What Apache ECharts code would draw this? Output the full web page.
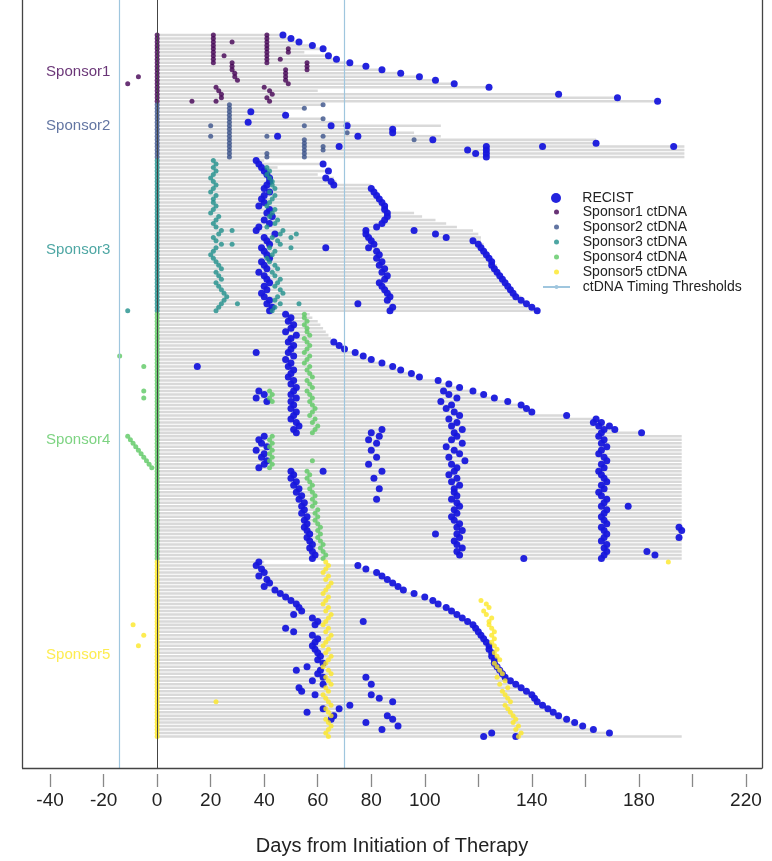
<!DOCTYPE html>
<html><head><meta charset="utf-8">
<script src="https://cdn.jsdelivr.net/npm/echarts@6/dist/echarts.min.js"></script>
<style>html,body{margin:0;padding:0;background:#fff}#c{width:772px;height:861px}</style>
</head><body><div id="c"></div>
<script>
// ---------- data ----------
const sponsors = ['Sponsor1','Sponsor2','Sponsor3','Sponsor4','Sponsor5'];
const sponsorColors = ['#440154','#3B528B','#21908C','#5DC863','#FDE725'];
const xTicks = [-40,-20,0,20,40,60,80,100,120,140,160,180,200,220];
const xTickLabels = [-40,-20,0,20,40,60,80,100,140,180,220];
const thresholds = [-14, 70];

// Sponsor1
const s1End = [47,50,53,58,62,55,64,67,72,78,84,91,98,104,111,124,60,150,172,187];
const s1Recist = [[47],[50],[53],[58],[62],[],[64],[67],[72],[78],[84],[91],[98],[104],[111],[124],[],[150],[172],[187]];
const s1Ct = [[0,21,41],[0,21,41],[0,21,28,41],[0,21,41],[0,21,41,49],[0,21,41,49],[0,21,25,41],[0,21,41,46],[0,21,28,41,56],[0,28,56],[0,28,48,56],[0,29,48],[0,-7,29,48],[0,30,48],[0,-11,49],[0,22,40],[0,23,42],[0,24,43],[0,24,41],[0,13,22,42]];

// Sponsor2
const s2End = [62,55,48,48,62,72,106,88,96,106,164,164,197,197,197,197];
const s2Recist = [[],[],[35],[48],[],[34],[65,71],[88],[88],[45,75],[103],[164],[68,123,144,193],[116,123],[119,123],[123]];
const s2Ct = [[0,27,62],[0,27,55],[0,27],[0,27],[0,27,62],[0,27],[0,20,27,55],[0,27],[0,27,71],[0,20,27,41,62],[0,27,55,96],[0,27,55],[0,27,55,62],[0,27,55,62],[0,27,41,55],[0,27,41,55]];

// Sponsor3
const s3End = [40,62,45,64,60,66,67,80,80,81,82,83,84,85,86,96,99,104,108,112,118,120,121,121,122,122,123,124,125,126,127,127,128,129,130,131,132,133,134,136,137,139,141,143];
const s3Recist = [[37],[38,62],[39],[40,64],[41],[42,63],[42,65],[41,66],[40,80],[42,81],[40,82],[39,83],[40,84],[38,85],[42,85],[41,86],[43,86],[40,85],[42,84],[38,82],[37,78,96],[44,78,104],[40,79,108],[41,80,118],[42,81,120],[39,79,63,121],[40,82,122],[41,83,123],[42,82,124],[39,84,125],[40,83,125],[41,85,126],[38,84,127],[40,86,128],[41,85,129],[42,83,130],[40,84,131],[41,85,132],[39,86,133],[40,87,134],[42,86,136],[41,75,138],[43,88,140],[42,87,142]];
const s3Ct = [[0,21],[0,22],[0,21,41],[0,22,42],[0,21,41],[0,20,42],[0,21,43],[0,22,43],[0,21,44],[0,20,42],[0,22,44],[0,21,43],[0,21,42],[0,22,41],[0,21,44],[0,20,43],[0,23,42],[0,22,45],[0,21,44],[0,22,41],[0,24,28,47],[0,23,46,52],[0,21,43,50],[0,22,45],[0,24,28,46],[0,22,42,50],[0,21,44],[0,20,43],[0,21,41],[0,22,42],[0,23,44],[0,24,45],[0,22,43],[0,23,44],[0,24,46],[0,22,45],[0,23,44],[0,24,46],[0,25,47],[0,26,45],[0,25,44],[0,24,30,46,53],[0,23,44],[0,-11,22,43]];

// Sponsor4
const s4End = [57,58,60,61,62,63,64,65,66,68,70,74,77,80,84,88,91,95,98,105,109,113,118,122,126,131,136,138,140,153,164,166,169,171,181,196,196,196,196,196,196,196,196,196,196,196,196,196,196,196,196,196,196,196,196,196,196,196,196,196,196,196,196,196,196,196,196,196,196,196,196];
const s4Recist = [[48],[50],[49],[51],[50],[48],[52],[50],[49,66],[51,68],[50,70],[37,49,74],[51,77],[48,80],[50,84],[15,49,88],[51,91],[50,95],[49,98],[51,105],[50,109],[52,113],[38,51,107,118],[40,50,109,122],[37,52,112,126],[41,50,106,131],[51,110,136],[50,108,138],[52,111,140],[51,113,153],[50,109,164],[52,112,163,166],[53,110,165,169],[51,114,84,167,171],[52,80,111,166,181],[40,83,112,165],[38,79,110,167],[39,82,114,166],[41,108,168],[37,80,111,166],[40,113,165],[39,82,109,167],[41,115,168],[40,79,110,166],[38,112,167],[50,62,84,111,165],[51,109,166],[50,81,112,167],[52,110,168],[51,113,166],[53,83,111,167],[52,111,165],[54,112,166],[53,82,110,168],[55,112,167],[54,113,166,176],[55,111,168],[54,112,167],[56,110,166],[55,111,167],[56,113,168],[55,112,166,195],[56,114,167,196],[57,104,112,168],[56,113,167,195],[57,111,166],[58,112,168],[57,114,167],[58,112,168,183],[59,113,167,186],[58,137,166]];
const s4Ct = [[0,55],[0,55],[0,56],[0,55],[0,56],[0,56],[0,57],[0,55],[0,56],[0,57],[0,56],[0,55],[0,-14,57],[0,56],[0,55],[0,-5,57],[0,56],[0,57],[0,58],[0,56],[0,57],[0,58],[0,-5,42,56],[0,43,57],[0,-5,42,58],[0,43,57],[0,58],[0,59],[0,58],[0,57],[0,59],[0,58],[0,60],[0,59],[0,58],[0,-11,43],[0,-10,42],[0,-9,43],[0,-8,42],[0,-7,43],[0,-6,42],[0,-5,43],[0,-4,42,58],[0,-3,43],[0,-2,42],[0,56],[0,57],[0,56],[0,57],[0,58],[0,57],[0,58],[0,59],[0,58],[0,59],[0,58],[0,60],[0,59],[0,60],[0,59],[0,60],[0,61],[0,60],[0,61],[0,60],[0,61],[0,62],[0,61],[0,62],[0,63],[0,62]];

// Sponsor5
const s5End = [40,75,78,82,84,86,88,90,92,96,100,103,105,108,110,112,114,116,118,119,120,121,122,123,124,124,125,125,126,126,127,128,129,130,132,134,136,138,140,141,142,144,146,148,150,153,156,159,163,169,196];
const s5Recist = [[38],[37,75],[39,78],[40,82],[38,84],[41,86],[42,88],[40,90],[44,92],[46,96],[48,100],[50,103],[52,105],[53,108],[54,110],[51,112],[58,114],[60,77,116],[59,118],[48,119],[51,120],[58,121],[60,122],[59,123],[58,124],[59,124],[60,125],[61,125],[60,126],[62,126],[56,127],[52,61,128],[60,129],[62,78,130],[58,132],[62,80,134],[53,136],[54,138],[59,80,140],[83,141],[88,142],[72,144],[62,68,146],[56,148],[66,86,150],[65,88,153],[78,156],[90,159],[84,163],[125,169],[122,134]];
const s5Ct = [[0,63,191],[0,64],[0,63],[0,62],[0,64],[0,63],[0,65],[0,64],[0,63],[0,62],[0,64],[0,63,121],[0,62,123],[0,64,124],[0,63,122],[0,65,123],[0,64,125],[0,63,124],[0,-9,62,124],[0,64,125],[0,63,126],[0,-5,65,125],[0,64,126],[0,63,125],[0,-7,62,126],[0,64,127],[0,63,126],[0,65,127],[0,64,128],[0,63,126],[0,62,127],[0,64,128],[0,65,129],[0,63,127],[0,64,130],[0,65,128],[0,63,131],[0,64,129],[0,62,130],[0,63,131],[0,22,64,132],[0,65,130],[0,63,131],[0,64,132],[0,65,133],[0,63,134],[0,64,133],[0,65,135],[0,64,134],[0,63,136],[0,64,135]];

// ---------- layout constants ----------
const sponsorLabelRows = [10.5, 26, 61.5, 116, 177.5];
const yMin = -10, yMax = 210;

// ---------- build ----------
const groups = [
  {end:s1End, rec:s1Recist, ct:s1Ct},
  {end:s2End, rec:s2Recist, ct:s2Ct},
  {end:s3End, rec:s3Recist, ct:s3Ct},
  {end:s4End, rec:s4Recist, ct:s4Ct},
  {end:s5End, rec:s5Recist, ct:s5Ct}
];
let offset = 0;
const bars = [], recist = [], ctData = [[],[],[],[],[]];
groups.forEach((g, i) => {
  g.end.forEach((e, r) => {
    const row = offset + r;
    bars.push([0, e, row]);
    g.rec[r].forEach(d => recist.push([d, row]));
    g.ct[r].forEach(d => ctData[i].push([d, row]));
  });
  offset += g.end.length;
});

const FONT = 'Liberation Sans, Arial, sans-serif';
const BLUE = '#1717dc';
const THR = '#9fc6de';

const series = [
  {
    type: 'custom', name: 'bars', silent: true, z: 1,
    renderItem: (params, api) => {
      const a = api.coord([api.value(0), api.value(2)]);
      const b = api.coord([api.value(1), api.value(2)]);
      const h = api.size([0, 1])[1] * 0.72;
      return {type: 'rect', shape: {x: a[0], y: a[1] - h / 2, width: b[0] - a[0], height: h}, style: {fill: '#d9d9d9'}};
    },
    encode: {x: [0, 1], y: 2},
    data: bars
  },
  {
    type: 'line', name: 'ctDNA Timing Thresholds', data: [], symbol: 'none', z: 2,
    lineStyle: {color: THR, width: 1.2},
    itemStyle: {color: THR},
    markLine: {
      symbol: 'none', silent: true, label: {show: false},
      lineStyle: {color: THR, width: 1.2, type: 'solid'},
      data: thresholds.map(t => ({xAxis: t}))
    }
  },
  {
    type: 'line', name: 'frame', data: [], symbol: 'none', z: 2,
    markLine: {
      symbol: 'none', silent: true, label: {show: false},
      lineStyle: {color: '#444', width: 1, type: 'solid'},
      data: [{xAxis: 0}, {yAxis: yMax, lineStyle: {color: '#444', width: 1.3}}]
    }
  },
  {
    type: 'scatter', name: 'RECIST', data: recist, symbol: 'circle', symbolSize: 7, z: 3,
    itemStyle: {color: BLUE, opacity: 0.95}
  }
];
sponsors.forEach((s, i) => {
  series.push({
    type: 'scatter', name: s + ' ctDNA', data: ctData[i], symbol: 'circle', symbolSize: 5, z: 4,
    itemStyle: {color: sponsorColors[i]}
  });
});
series.push({
  type: 'scatter', name: 'labels', symbolSize: 0, silent: true, z: 5,
  data: sponsors.map((s, i) => ({
    value: [-17.5, sponsorLabelRows[i]], name: s,
    label: {show: true, position: 'left', distance: 0, formatter: s, color: sponsorColors[i], fontSize: 15, fontFamily: FONT}
  }))
});

const chart = echarts.init(document.getElementById('c'), null, {renderer: 'canvas'});
chart.setOption({
  animation: false,
  backgroundColor: '#fff',
  grid: {left: 22, right: 10, top: 0, bottom: 91, show: false},
  xAxis: {
    type: 'value', min: -50.5, max: 226, position: 'bottom', offset: 6,
    axisLine: {show: false, onZero: false},
    axisTick: {show: true, customValues: xTicks, length: 13, lineStyle: {color: '#888', width: 1.3}},
    axisLabel: {show: true, customValues: xTickLabels, fontSize: 19, margin: 17, color: '#222', fontFamily: FONT},
    splitLine: {show: false},
    name: 'Days from Initiation of Therapy', nameLocation: 'middle', nameGap: 62,
    nameTextStyle: {fontSize: 20, color: '#222', fontFamily: FONT}
  },
  yAxis: [
    {type: 'value', inverse: true, min: yMin, max: yMax, position: 'left',
     axisLine: {show: true, onZero: false, lineStyle: {color: '#444', width: 1.3}},
     axisTick: {show: false}, axisLabel: {show: false}, splitLine: {show: false}},
    {type: 'value', inverse: true, min: yMin, max: yMax, position: 'right',
     axisLine: {show: true, onZero: false, lineStyle: {color: '#444', width: 1.3}},
     axisTick: {show: false}, axisLabel: {show: false}, splitLine: {show: false}}
  ],
  legend: [
    {data: ['RECIST'], orient: 'vertical', left: 546, top: 186, itemWidth: 27, itemHeight: 10,
     formatter: n => '  ' + n,
     textStyle: {fontSize: 14, color: '#222', fontFamily: FONT}, selectedMode: false},
    {data: sponsors.map(s => s + ' ctDNA').concat(['ctDNA Timing Thresholds']),
     orient: 'vertical', left: 537, top: 200, itemWidth: 27, itemHeight: 5, itemGap: 1,
     formatter: n => '  ' + n,
     textStyle: {fontSize: 14, lineHeight: 14, color: '#222', fontFamily: FONT}, selectedMode: false}
  ],
  series: series
});
</script></body></html>
